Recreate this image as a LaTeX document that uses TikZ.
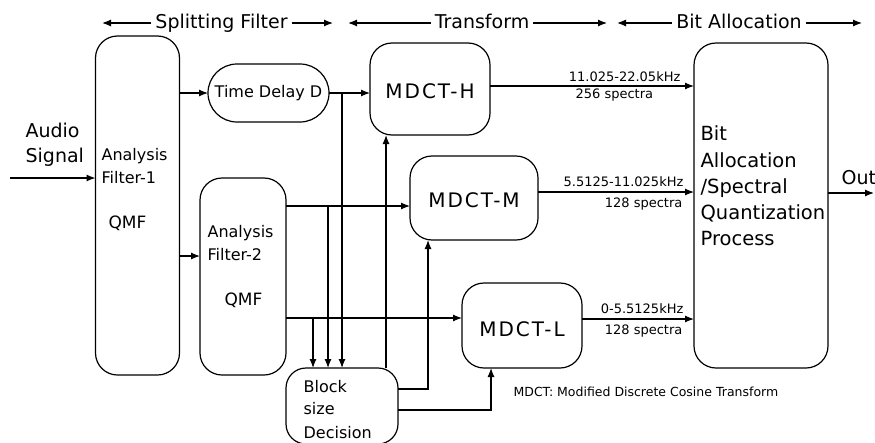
\documentclass[tikz,border=0pt]{standalone}
\usepackage{fontspec}
\setmainfont{DejaVu Sans}
\newfontfamily\spacedfont[LetterSpace=10]{DejaVu Sans}
\usetikzlibrary{arrows.meta}
\begin{document}
\begin{tikzpicture}[x=1pt,y=-1pt,line width=1.2pt,
  box/.style={draw,rounded corners=22pt,inner sep=0pt,outer sep=0pt},
  arr/.style={-{Latex[length=9pt,width=7pt]}},
  hdr/.style={font=\fontsize{19}{22}\selectfont,inner xsep=3.5pt,inner ysep=0pt},
  mdct/.style={font=\spacedfont\fontsize{20}{24}\selectfont,text height=19pt,text depth=0pt},
  aud/.style={font=\fontsize{19}{22}\selectfont,inner sep=0pt,anchor=base west},
  flt/.style={font=\fontsize{16}{19}\selectfont,inner sep=0pt,anchor=base west},
  qmf/.style={font=\fontsize{17}{20}\selectfont,inner sep=0pt,anchor=base west},
  bal/.style={font=\fontsize{19.5}{23}\selectfont,inner sep=0pt,anchor=base west},
  blk/.style={font=\fontsize{16}{19}\selectfont,inner sep=0pt,anchor=base west},
  lbl/.style={font=\fontsize{13}{15}\selectfont,inner sep=0pt},
  foot/.style={font=\fontsize{12.5}{15}\selectfont,inner sep=0pt,anchor=base west}]
\useasboundingbox (0,0) rectangle (875,442);
\clip (0,0) rectangle (875,442);
\fill[white] (0,0) rectangle (875,442);

% ---- header ----
\node[hdr,anchor=base] (h1) at (221.5,28) {Splitting Filter};
\node[hdr,anchor=base] (h2) at (482,28) {Transform};
\node[hdr,anchor=base] (h3) at (739,28) {Bit Allocation};
\coordinate (h1l) at (102,23); \coordinate (h1r) at (333,23);
\coordinate (h2l) at (348,23); \coordinate (h2r) at (607,23);
\coordinate (h3l) at (617,23); \coordinate (h3r) at (862,23);
\draw[arr] (h1.west |- h1l) -- (h1l);
\draw[arr] (h1.east |- h1r) -- (h1r);
\draw[arr] (h2.west |- h2l) -- (h2l);
\draw[arr] (h2.east |- h2r) -- (h2r);
\draw[arr] (h3.west |- h3l) -- (h3l);
\draw[arr] (h3.east |- h3r) -- (h3r);

% ---- boxes ----
\node[box,minimum width=84pt,minimum height=339pt] (F1) at (137.5,205.5) {};
\node[box,minimum width=86pt,minimum height=197pt] (F2) at (243,276.5) {};
\node[box,rounded corners=29pt,minimum width=121pt,minimum height=58pt,
      font=\fontsize{16}{19}\selectfont] (TD) at (268.5,93) {Time Delay D};
\node[box,mdct,minimum width=120pt,minimum height=92pt] (MH) at (430,89) {MDCT-H};
\node[box,mdct,minimum width=128pt,minimum height=84pt] (MM) at (474,198) {MDCT-M};
\node[box,mdct,text height=22pt,minimum width=120pt,minimum height=85pt] (ML) at (522,325.5) {MDCT-L};
\node[box,minimum width=134pt,minimum height=325pt] (BA) at (761,205.5) {};
\node[box,rounded corners=20pt,minimum width=112pt,minimum height=76pt] (BD) at (342,406) {};

% ---- texts ----
\node[aud] (au1) at (25,137) {Audio};
\node[aud] (au2) at (25,162) {Signal};
\node[flt] (f1a) at (101,160) {Analysis};
\node[flt] (f1b) at (101,183) {Filter-1};
\node[qmf] (f1c) at (108,228) {QMF};
\node[flt] (f2a) at (207,237) {Analysis};
\node[flt] (f2b) at (207,260) {Filter-2};
\node[qmf] (f2c) at (224,305) {QMF};
\node[bal] (b1) at (700,140) {Bit};
\node[bal] (b2) at (700,167) {Allocation};
\node[bal] (b3) at (700,193) {/Spectral};
\node[bal] (b4) at (700,219) {Quantization};
\node[bal] (b5) at (700,245) {Process};
\node[blk] (d1) at (303,392) {Block};
\node[blk] (d2) at (303,414) {size};
\node[blk] (d3) at (303,438) {Decision};
\node[aud] (outt) at (841,184) {Out};
\node[foot] (fn) at (513,396) {MDCT: Modified Discrete Cosine Transform};

% ---- connectors ----
\coordinate (in) at (10,178);
\draw[arr] (in) -- (in -| F1.west);
\draw[arr] (F1.east |- TD.west) -- (TD.west);
\coordinate (f2in) at (200,256);
\draw[arr] (F1.east |- f2in) -- (f2in -| F2.west);
\draw[arr] (TD.east) -- (TD.east -| MH.west);
\coordinate (j1) at (342,93);
\draw[arr] (j1) -- (j1 |- BD.north);
\coordinate (ym) at (0,206);
\draw[arr] (F2.east |- ym) -- (MM.west |- ym);
\coordinate (j2) at (328,206);
\draw[arr] (j2) -- (j2 |- BD.north);
\coordinate (yl) at (0,318);
\draw[arr] (F2.east |- yl) -- (ML.west |- yl);
\coordinate (j3) at (313,318);
\draw[arr] (j3) -- (j3 |- BD.north);
\coordinate (xh) at (386,0);
\draw[arr] (BD.north -| xh) -- (MH.south -| xh);
\coordinate (km) at (428,389);
\draw[arr] (BD.east |- km) -| (MM.south -| km);
\coordinate (kl) at (491,410);
\draw[arr] (BD.east |- kl) -| (ML.south -| kl);
\coordinate (y1) at (0,86);
\draw[arr] (MH.east |- y1) -- (BA.west |- y1);
\coordinate (y2) at (0,192);
\draw[arr] (MM.east |- y2) -- (BA.west |- y2);
\coordinate (y3) at (0,319);
\draw[arr] (ML.east |- y3) -- (BA.west |- y3);
\coordinate (out) at (874,193);
\draw[arr] (BA.east |- out) -- (out);

% ---- line labels ----
\node[lbl,anchor=base east] (l1a) at (681,81) {11.025-22.05kHz};
\node[lbl,anchor=base west] (l1b) at (575,98) {256 spectra};
\node[lbl,anchor=base east] (l2a) at (684,186) {5.5125-11.025kHz};
\node[lbl,anchor=base east] (l2b) at (683,207) {128 spectra};
\node[lbl,anchor=base east] (l3a) at (684,313) {0-5.5125kHz};
\node[lbl,anchor=base east] (l3b) at (683,334) {128 spectra};
\end{tikzpicture}
\end{document}
